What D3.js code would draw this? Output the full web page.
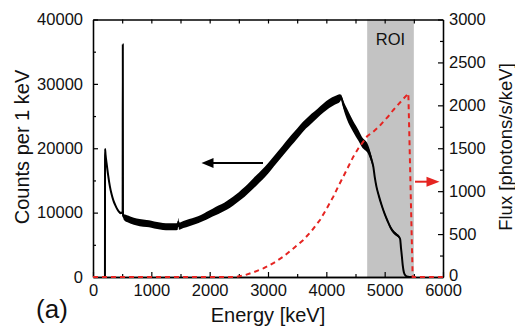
<!DOCTYPE html>
<html>
<head>
<meta charset="utf-8">
<script src="https://cdn.jsdelivr.net/npm/d3@7"></script>
<style>
  html, body { margin: 0; padding: 0; background: #fff; }
  svg { display: block; font-family: "Liberation Sans", Arial, sans-serif; }
</style>
</head>
<body>
<svg id="chart" width="515" height="326"></svg>
<script>
// ---- Data ----
const energy = [205,207,215,234,260,291,320,349,380,406,440,470,500,508,511,514,530,600,700,800,920,1000,1100,1200,1300,1400,1450,1462,1475,1550,1650,1750,1850,1950,2050,2150,2250,2350,2450,2550,2650,2750,2850,2950,3050,3150,3250,3350,3450,3550,3650,3750,3850,3950,4050,4150,4230,4255,4290,4350,4463,4550,4606,4720,4777,4806,4830,4860,4900,4950,5000,5050,5100,5150,5200,5240,5265,5280,5295,5310,5330,5360,5400,5450,5500];
const counts = [0,19900,19000,17600,15800,14000,12800,11900,11200,10700,10200,9950,10000,10200,36100,9600,9300,9000,8650,8450,8300,8200,8000,7850,7800,7800,7850,8600,7900,8150,8450,8750,9100,9550,10000,10450,10900,11450,12100,12850,13650,14550,15450,16350,17400,18500,19600,20700,21750,22830,23800,24650,25450,26250,26950,27450,27800,27900,26800,25400,23350,22000,21020,19730,18170,17100,15500,14000,12600,11100,9800,8700,7700,7000,6600,6300,5900,4500,3200,1800,700,200,50,0,0];
// half-width of the noisy band (counts)
const spread = [0,100,150,150,150,150,150,150,150,150,150,200,150,50,0,50,450,550,550,550,550,550,550,550,550,550,550,550,550,550,550,550,550,600,600,650,650,700,700,750,750,800,800,800,800,800,800,800,800,800,750,750,700,700,700,650,600,400,600,850,850,850,800,700,500,300,250,250,250,250,250,250,250,250,250,200,100,50,50,50,50,0,0,0,0];

const fluxEnergy = [0,2450,2600,2750,2920,3100,3263,3430,3606,3750,3891,4000,4120,4200,4291,4380,4463,4550,4634,4700,4806,4900,4977,5060,5149,5280,5406,5480,6000];
const flux = [0,0,20,55,100,165,237,330,431,540,664,790,936,1050,1169,1290,1402,1500,1577,1640,1693,1750,1810,1870,1946,2045,2140,0,0];

const roi = [4700, 5500];
const xTicks = [0,1000,2000,3000,4000,5000,6000];
const yLeftTicks = [0,10000,20000,30000,40000];
const yRightTicks = [0,500,1000,1500,2000,2500,3000];

// ---- Layout ----
const L = 93, R = 443, T = 19.5, B = 277;
const svg = d3.select("#chart");
const x = d3.scaleLinear().domain([0,6000]).range([L,R]);
const y = d3.scaleLinear().domain([0,40000]).range([B,T]);
const y2 = d3.scaleLinear().domain([0,3000]).range([B,T]);
const red = "#e52421";

// ROI band
svg.append("rect")
  .attr("x", x(roi[0])).attr("y", T)
  .attr("width", x(roi[1]) - x(roi[0])).attr("height", B - T)
  .attr("fill", "#c3c3c3");
svg.append("text").attr("x", x((roi[0]+roi[1])/2)).attr("y", 45)
  .attr("text-anchor","middle").attr("font-size", 16.5).attr("fill","#111").text("ROI");

// black spectrum: band + line
const pts = energy.map((e,i) => ({e, c: counts[i], s: spread[i]}));
svg.append("path").datum(pts)
  .attr("fill", "#000")
  .attr("d", d3.area().x(d => x(d.e)).y0(d => y(Math.max(0, d.c - d.s))).y1(d => y(d.c + d.s)).curve(d3.curveMonotoneX));
svg.append("path").datum(pts)
  .attr("fill", "none").attr("stroke", "#000").attr("stroke-width", 2)
  .attr("d", d3.line().x(d => x(d.e)).y(d => y(d.c)).curve(d3.curveMonotoneX));

// axes
function axis(gen, tr) {
  const g = svg.append("g").attr("transform", tr).call(gen);
  g.select(".domain").attr("stroke", "#000").attr("stroke-width", 1.3);
  g.selectAll(".tick line").attr("stroke", "#000").attr("stroke-width", 1.2);
  g.selectAll("text").attr("font-size", 16.5).attr("fill", "#111")
    .attr("font-family", "'Liberation Sans', Arial, sans-serif");
  return g;
}
const fmt = d3.format("d");
// minor ticks
axis(d3.axisBottom(x).tickValues(d3.range(500,6000,1000)).tickSize(-3).tickFormat("").tickSizeOuter(0), `translate(0,${B})`);
axis(d3.axisTop(x).tickValues(d3.range(500,6000,500)).tickSize(-4).tickFormat("").tickSizeOuter(0), `translate(0,${T})`);
axis(d3.axisLeft(y).tickValues(d3.range(5000,40000,10000)).tickSize(-3).tickFormat("").tickSizeOuter(0), `translate(${L},0)`);
axis(d3.axisRight(y2).tickValues(d3.range(250,3000,500)).tickSize(-3).tickFormat("").tickSizeOuter(0), `translate(${R},0)`);
// major
axis(d3.axisBottom(x).tickValues(xTicks).tickSize(-5).tickPadding(7).tickSizeOuter(0).tickFormat(fmt), `translate(0,${B})`);
axis(d3.axisLeft(y).tickValues(yLeftTicks).tickSize(-5).tickPadding(10).tickSizeOuter(0).tickFormat(fmt), `translate(${L},0)`);
const gr = axis(d3.axisRight(y2).tickValues(yRightTicks).tickSize(-5).tickPadding(6).tickSizeOuter(0).tickFormat(fmt), `translate(${R},0)`);
gr.selectAll(".tick").filter(d => d === 0).select("text").attr("dy", "0.22em");

// red flux curve (dashed)
const fpts = fluxEnergy.map((e,i) => ({e, f: flux[i]}));
svg.append("path").datum(fpts)
  .attr("fill","none").attr("stroke", red).attr("stroke-width", 2)
  .attr("stroke-dasharray", "5,4")
  .attr("d", d3.line().x(d => x(d.e)).y(d => y2(d.f)));

// arrows
svg.append("line").attr("x1", 263).attr("x2", 211).attr("y1", 163).attr("y2", 163)
  .attr("stroke", "#000").attr("stroke-width", 2);
svg.append("path").attr("d", "M201.5,163 L213.5,158 L213.5,168 Z").attr("fill", "#000");
svg.append("line").attr("x1", 415).attr("x2", 428).attr("y1", 181.7).attr("y2", 181.7)
  .attr("stroke", red).attr("stroke-width", 2);
svg.append("path").attr("d", "M439.5,181.7 L426.5,176.7 L426.5,186.7 Z").attr("fill", red);

// titles
svg.append("text").attr("x", 268).attr("y", 322).attr("text-anchor","middle")
  .attr("font-size", 20).attr("fill","#111").text("Energy [keV]");
svg.append("text").attr("transform", "translate(29,147) rotate(-90)").attr("text-anchor","middle")
  .attr("font-size", 20).attr("fill","#111").text("Counts per 1 keV");
svg.append("text").attr("transform", "translate(512,147) rotate(-90)").attr("text-anchor","middle")
  .attr("font-size", 18.5).attr("fill","#111").text("Flux [photons/s/keV]");
svg.append("text").attr("x", 52).attr("y", 318).attr("text-anchor","middle")
  .attr("font-size", 26).attr("fill","#111").text("(a)");
</script>
</body>
</html>
